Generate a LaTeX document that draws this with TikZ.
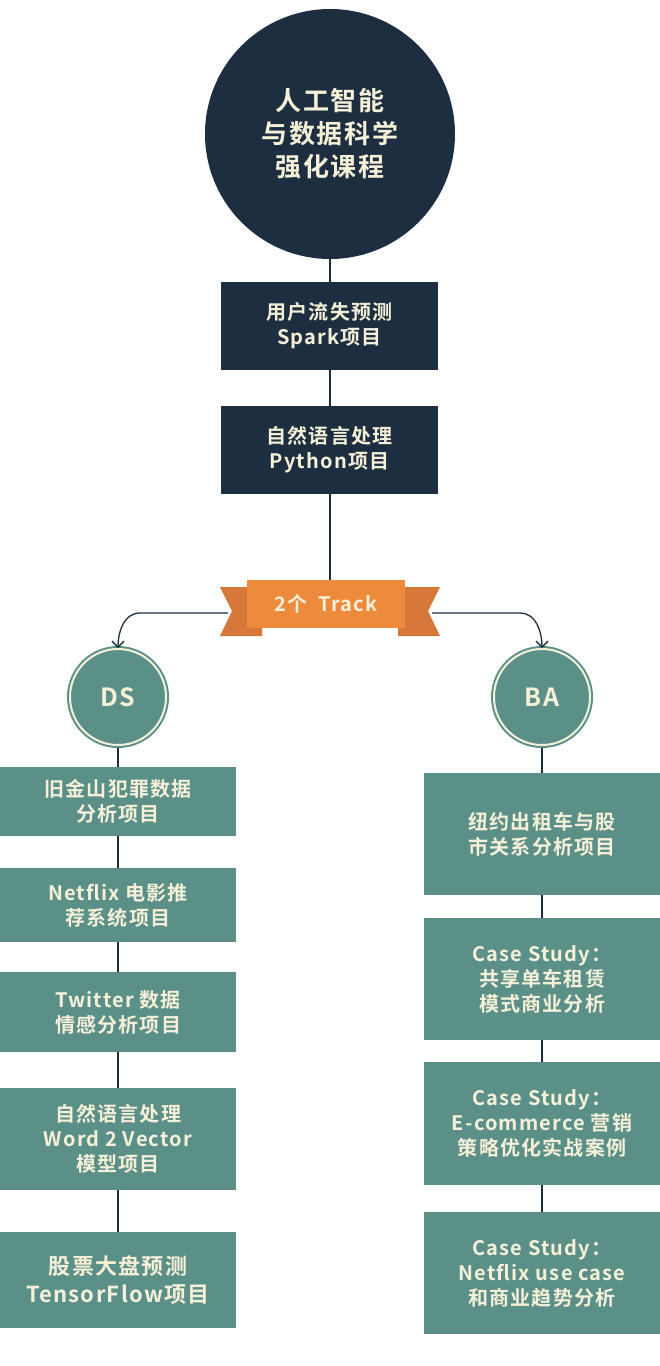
\documentclass[tikz,border=0pt]{standalone}
\usepackage{fontspec}
\setmainfont{Noto Sans CJK SC}[BoldFont={Noto Sans CJK SC Bold},LetterSpace=6]
\usetikzlibrary{arrows.meta}
\definecolor{navy}{HTML}{1C2E40}
\definecolor{teal}{HTML}{5A9088}
\definecolor{cream}{HTML}{F6F0D8}
\definecolor{orng}{HTML}{EE8A3C}
\definecolor{orngd}{HTML}{D8773A}
\begin{document}
\begin{tikzpicture}[x=1pt,y=-1pt,
  txt/.style={text=cream,font=\bfseries\fontsize{20}{25}\selectfont,align=center},
  navybox/.style={txt,fill=navy,minimum width=217pt,minimum height=88pt},
  tealbox/.style={txt,fill=teal,minimum width=236pt},
  ln/.style={draw=navy,line width=1.3pt}]
\useasboundingbox (0,0) rectangle (660,1366);
% lines
\draw[ln] (330,134) -- (330,590);
\draw[ln] (118,700) -- (118,1280);
\draw[ln] (542,700) -- (542,1280);
\node[circle,fill=navy,minimum size=250pt,txt,font=\bfseries\fontsize{26}{33}\selectfont] (top) at (330,134) {人工智能\\与数据科学\\强化课程};
\node[navybox] (b1) at (329.5,326) {用户流失预测\\Spark项目};
\node[navybox] (b2) at (329.5,449.5) {自然语言处理\\Python项目};
% ribbon
\fill[orngd] (220,587) -- (262,587) -- (262,636) -- (220,636) -- (232,611) -- cycle;
\fill[orngd] (440,587) -- (398,587) -- (398,636) -- (440,636) -- (428,611) -- cycle;
\node[fill=orng,minimum width=158pt,minimum height=48pt,txt] (trk) at (326,604) {2个\ \ Track};
\coordinate (tl) at (228,613);
\coordinate (tr) at (432,613);
\node[circle,fill=teal,minimum size=96pt,draw=teal,line width=2pt,double=cream,double distance=2pt,inner sep=0pt] (ds) at (118,697) {};
\node[txt,font=\bfseries\fontsize{25}{28}\selectfont] at (ds) {DS};
\node[circle,fill=teal,minimum size=96pt,draw=teal,line width=2pt,double=cream,double distance=2pt,inner sep=0pt] (ba) at (542,697) {};
\node[txt,font=\bfseries\fontsize{25}{28}\selectfont] at (ba) {BA};
\draw[ln,-{Straight Barb[length=6pt,width=12pt]}] (tl) -- (140,613) to[out=180,in=90] (ds.north);
\draw[ln,-{Straight Barb[length=6pt,width=12pt]}] (tr) -- (520,613) to[out=0,in=90] (ba.north);
% left
\node[tealbox,minimum height=69pt] (l1) at (118,801.5) {旧金山犯罪数据\\分析项目};
\node[tealbox,minimum height=74pt] (l2) at (118,905) {Netflix 电影推\\荐系统项目};
\node[tealbox,minimum height=80pt] (l3) at (118,1012) {Twitter 数据\\情感分析项目};
\node[tealbox,minimum height=102pt] (l4) at (118,1139) {自然语言处理\\Word 2 Vector\\模型项目};
\node[tealbox,minimum height=96pt,font=\bfseries\fontsize{22}{28}\selectfont] (l5) at (118,1280) {股票大盘预测\\TensorFlow项目};
% right
\node[tealbox,minimum height=122pt] (r1) at (542,834) {纽约出租车与股\\市关系分析项目};
\node[tealbox,minimum height=122pt] (r2) at (542,979) {Case Study：\\共享单车租赁\\模式商业分析};
\node[tealbox,minimum height=123pt] (r3) at (542,1123.5) {Case Study：\\E-commerce 营销\\策略优化实战案例};
\node[tealbox,minimum height=122pt] (r4) at (542,1273) {Case Study：\\Netflix use case\\和商业趋势分析};
\end{tikzpicture}
\end{document}
